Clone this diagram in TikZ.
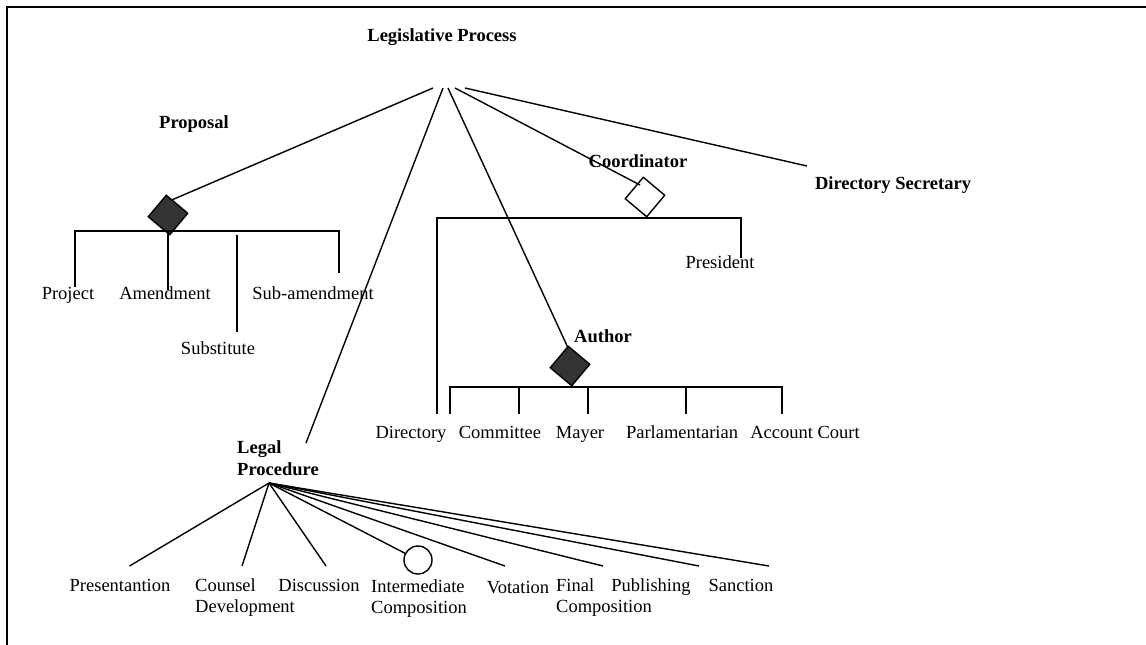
\documentclass[tikz,border=0pt]{standalone}
\usepackage{fontspec}
\setmainfont{Liberation Serif}
\definecolor{dk}{RGB}{51,51,51}
\begin{document}
\begin{tikzpicture}[x=1pt,y=-1pt,
  ln/.style={line width=1.4pt},
  lbl/.style={font=\fontsize{18.5}{21}\selectfont, inner sep=0pt, anchor=base},
  blbl/.style={font=\fontsize{18.5}{21}\selectfont\bfseries, inner sep=0pt, anchor=base},
  mlbl/.style={font=\fontsize{18.5}{21}\selectfont, inner sep=0pt, anchor=base west, align=left},
  bmlbl/.style={font=\fontsize{18.5}{21.5}\selectfont\bfseries, inner sep=0pt, anchor=base west, align=left},
  fdia/.style={draw, line width=1.4pt, fill=dk, minimum size=28pt, inner sep=0pt, rotate=50},
  hdia/.style={draw, line width=1.4pt, minimum size=28pt, inner sep=0pt, rotate=50},
  circ/.style={draw, line width=1.4pt, circle, minimum size=28pt, inner sep=0pt},
]
\useasboundingbox (0,0) rectangle (1146,645);
% frame
\coordinate (fbl) at (7,645); \coordinate (ftl) at (7,7); \coordinate (ftr) at (1146,7);
\draw[line width=1.6pt] (fbl) -- (ftl) -- (ftr);

% root
\node[blbl] (lp) at (442,41) {Legislative Process};
\coordinate (r1) at (433,88); \coordinate (r2) at (443,88); \coordinate (r3) at (448,88);
\coordinate (r4) at (455,88); \coordinate (r5) at (465,88);

% Proposal
\node[blbl] (prop) at (194,128) {Proposal};
\coordinate (pin) at (167,202);
\draw[ln] (r1) -- (pin);
\node[fdia] (pd) at (168,215) {};
\coordinate (pbl) at (75,231); \coordinate (pbr) at (339,231); \coordinate (pbm) at (168,231);
\coordinate (pe1) at (75,287); \coordinate (pe2) at (168,290);
\coordinate (pe3a) at (237,235); \coordinate (pe3b) at (237,332);
\coordinate (pe4) at (339,273);
\draw[ln] (pe1) -- (pbl) -- (pbr) -- (pe4);
\draw[ln] (pbm) -- (pe2);
\draw[ln] (pe3a) -- (pe3b);
\node[lbl] (project) at (68,299) {Project};
\node[lbl] (amend) at (165,299) {Amendment};
\node[lbl] (subam) at (313,299) {Sub-amendment};
\node[lbl] (subst) at (218,354) {Substitute};

% Coordinator
\node[blbl] (coord) at (638,167) {Coordinator};
\coordinate (cin) at (640,185);
\draw[ln] (r4) -- (cin);
\node[hdia] (cd) at (645,197) {};
\coordinate (cbl) at (437,218); \coordinate (cbr) at (741,218);
\coordinate (ce1) at (437,414); \coordinate (ce2) at (741,258);
\draw[ln] (ce1) -- (cbl) -- (cbr) -- (ce2);
\node[lbl] (pres) at (720,268) {President};

% Directory Secretary
\coordinate (dsin) at (807,166);
\draw[ln] (r5) -- (dsin);
\node[blbl] (ds) at (893,189) {Directory Secretary};

% Author
\coordinate (ain) at (569,350);
\draw[ln] (r3) -- (ain);
\node[fdia] (ad) at (570,366) {};
\node[blbl] (auth) at (603,342) {Author};
\coordinate (ab1) at (450,387); \coordinate (ab2) at (519,387); \coordinate (ab3) at (588,387);
\coordinate (ab4) at (686,387); \coordinate (ab5) at (782,387);
\coordinate (ae1) at (450,414); \coordinate (ae2) at (519,414); \coordinate (ae3) at (588,414);
\coordinate (ae4) at (686,414); \coordinate (ae5) at (782,414);
\draw[ln] (ae1) -- (ab1) -- (ab5) -- (ae5);
\draw[ln] (ab2) -- (ae2);
\draw[ln] (ab3) -- (ae3);
\draw[ln] (ab4) -- (ae4);
\node[lbl] (dir) at (411,438) {Directory};
\node[lbl] (comm) at (500,438) {Committee};
\node[lbl] (may) at (580,438) {Mayer};
\node[lbl] (parl) at (682,438) {Parlamentarian};
\node[lbl] (acc) at (805,438) {Account Court};

% Legal Procedure
\coordinate (lin) at (306,443);
\draw[ln] (r2) -- (lin);
\node[bmlbl] (legal) at (237,475) {Legal\\Procedure};
\coordinate (f) at (269,483);
\coordinate (l1) at (129.5,566); \coordinate (l2) at (242,566); \coordinate (l3) at (326,566);
\coordinate (l5) at (505,566); \coordinate (l6) at (603,566); \coordinate (l7) at (699,566);
\coordinate (l8) at (769,566);
\node[circ] (ic) at (418,560) {};
\draw[ln] (f) -- (l1);
\draw[ln] (f) -- (l2);
\draw[ln] (f) -- (l3);
\draw[ln] (f) -- (ic);
\draw[ln] (f) -- (l5);
\draw[ln] (f) -- (l6);
\draw[ln] (f) -- (l7);
\draw[ln] (f) -- (l8);
\node[lbl] (pre) at (120,591) {Presentantion};
\node[mlbl] (cou) at (195,612) {Counsel\\Development};
\node[lbl] (dis) at (319,591) {Discussion};
\node[mlbl] (inter) at (371,613) {Intermediate\\Composition};
\node[lbl] (vot) at (518,593) {Votation};
\node[mlbl] (fin) at (556,612) {Final\\Composition};
\node[lbl] (pub) at (651,591) {Publishing};
\node[lbl] (san) at (741,591) {Sanction};
\end{tikzpicture}
\end{document}
